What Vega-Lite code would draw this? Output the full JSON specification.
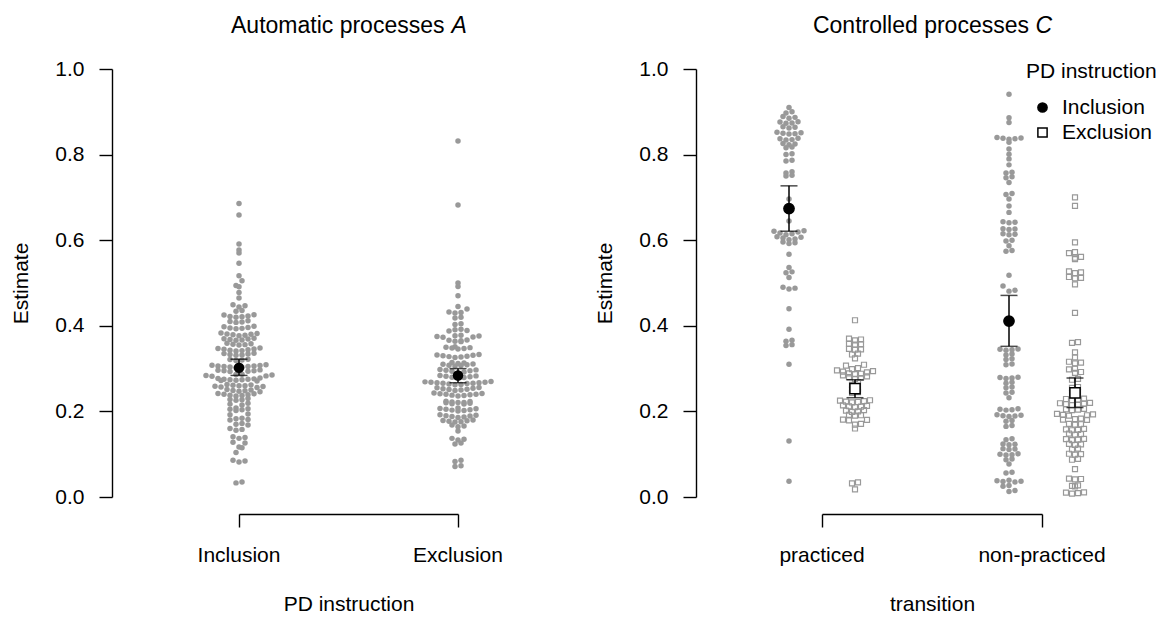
{
  "$schema": "https://vega.github.io/schema/vega-lite/v6.json",
  "background": "white",
  "padding": {"left": 10, "top": 14, "right": 5, "bottom": 5},
  "config": {
    "view": {"stroke": null},
    "font": "Liberation Sans",
    "axis": {
      "grid": false,
      "domainColor": "black",
      "tickColor": "black",
      "labelColor": "black",
      "titleColor": "black",
      "labelFont": "Liberation Sans",
      "titleFont": "Liberation Sans",
      "labelFontSize": 21,
      "titleFontSize": 21,
      "titleFontWeight": "normal",
      "domainWidth": 1.4,
      "tickWidth": 1.4,
      "tickSize": 13,
      "labelFlush": false,
      "labelBound": false
    },
    "legend": {
      "titleFont": "Liberation Sans",
      "labelFont": "Liberation Sans",
      "titleFontSize": 21,
      "labelFontSize": 21,
      "titleFontWeight": "normal",
      "titleColor": "black",
      "labelColor": "black",
      "symbolSize": 85,
      "symbolStrokeColor": "black",
      "symbolStrokeWidth": 1.5,
      "rowPadding": 3,
      "titlePadding": 15,
      "labelOffset": 9,
      "symbolOffset": 6,
      "padding": 0
    }
  },
  "datasets": {
    "automatic": [
      {"instruction": "Inclusion", "estimate": 0.686}, {"instruction": "Inclusion", "estimate": 0.659}, {"instruction": "Inclusion", "estimate": 0.591}, {"instruction": "Inclusion", "estimate": 0.577}, {"instruction": "Inclusion", "estimate": 0.570}, {"instruction": "Inclusion", "estimate": 0.546}, {"instruction": "Inclusion", "estimate": 0.517}, {"instruction": "Inclusion", "estimate": 0.505}, {"instruction": "Inclusion", "estimate": 0.494}, {"instruction": "Inclusion", "estimate": 0.491}, {"instruction": "Inclusion", "estimate": 0.478}, {"instruction": "Inclusion", "estimate": 0.465},
      {"instruction": "Inclusion", "estimate": 0.449}, {"instruction": "Inclusion", "estimate": 0.447}, {"instruction": "Inclusion", "estimate": 0.444}, {"instruction": "Inclusion", "estimate": 0.436}, {"instruction": "Inclusion", "estimate": 0.434},
      {"instruction": "Inclusion", "estimate": 0.426}, {"instruction": "Inclusion", "estimate": 0.425}, {"instruction": "Inclusion", "estimate": 0.423}, {"instruction": "Inclusion", "estimate": 0.422}, {"instruction": "Inclusion", "estimate": 0.421}, {"instruction": "Inclusion", "estimate": 0.420},
      {"instruction": "Inclusion", "estimate": 0.412}, {"instruction": "Inclusion", "estimate": 0.410}, {"instruction": "Inclusion", "estimate": 0.409}, {"instruction": "Inclusion", "estimate": 0.408},
      {"instruction": "Inclusion", "estimate": 0.399}, {"instruction": "Inclusion", "estimate": 0.398}, {"instruction": "Inclusion", "estimate": 0.396}, {"instruction": "Inclusion", "estimate": 0.395}, {"instruction": "Inclusion", "estimate": 0.394}, {"instruction": "Inclusion", "estimate": 0.393},
      {"instruction": "Inclusion", "estimate": 0.383}, {"instruction": "Inclusion", "estimate": 0.382}, {"instruction": "Inclusion", "estimate": 0.381}, {"instruction": "Inclusion", "estimate": 0.380}, {"instruction": "Inclusion", "estimate": 0.379}, {"instruction": "Inclusion", "estimate": 0.378}, {"instruction": "Inclusion", "estimate": 0.377},
      {"instruction": "Inclusion", "estimate": 0.371}, {"instruction": "Inclusion", "estimate": 0.370}, {"instruction": "Inclusion", "estimate": 0.369}, {"instruction": "Inclusion", "estimate": 0.368}, {"instruction": "Inclusion", "estimate": 0.367}, {"instruction": "Inclusion", "estimate": 0.366},
      {"instruction": "Inclusion", "estimate": 0.359}, {"instruction": "Inclusion", "estimate": 0.358}, {"instruction": "Inclusion", "estimate": 0.357}, {"instruction": "Inclusion", "estimate": 0.356}, {"instruction": "Inclusion", "estimate": 0.355},
      {"instruction": "Inclusion", "estimate": 0.348}, {"instruction": "Inclusion", "estimate": 0.347}, {"instruction": "Inclusion", "estimate": 0.346}, {"instruction": "Inclusion", "estimate": 0.345}, {"instruction": "Inclusion", "estimate": 0.344}, {"instruction": "Inclusion", "estimate": 0.343}, {"instruction": "Inclusion", "estimate": 0.342}, {"instruction": "Inclusion", "estimate": 0.341},
      {"instruction": "Inclusion", "estimate": 0.336}, {"instruction": "Inclusion", "estimate": 0.335}, {"instruction": "Inclusion", "estimate": 0.334}, {"instruction": "Inclusion", "estimate": 0.333}, {"instruction": "Inclusion", "estimate": 0.332}, {"instruction": "Inclusion", "estimate": 0.331},
      {"instruction": "Inclusion", "estimate": 0.322}, {"instruction": "Inclusion", "estimate": 0.321}, {"instruction": "Inclusion", "estimate": 0.320}, {"instruction": "Inclusion", "estimate": 0.319},
      {"instruction": "Inclusion", "estimate": 0.309}, {"instruction": "Inclusion", "estimate": 0.308}, {"instruction": "Inclusion", "estimate": 0.307}, {"instruction": "Inclusion", "estimate": 0.306}, {"instruction": "Inclusion", "estimate": 0.306}, {"instruction": "Inclusion", "estimate": 0.305}, {"instruction": "Inclusion", "estimate": 0.305}, {"instruction": "Inclusion", "estimate": 0.304}, {"instruction": "Inclusion", "estimate": 0.303}, {"instruction": "Inclusion", "estimate": 0.302},
      {"instruction": "Inclusion", "estimate": 0.297}, {"instruction": "Inclusion", "estimate": 0.296}, {"instruction": "Inclusion", "estimate": 0.295}, {"instruction": "Inclusion", "estimate": 0.295}, {"instruction": "Inclusion", "estimate": 0.294}, {"instruction": "Inclusion", "estimate": 0.293},
      {"instruction": "Inclusion", "estimate": 0.287}, {"instruction": "Inclusion", "estimate": 0.286}, {"instruction": "Inclusion", "estimate": 0.285}, {"instruction": "Inclusion", "estimate": 0.284}, {"instruction": "Inclusion", "estimate": 0.283}, {"instruction": "Inclusion", "estimate": 0.282},
      {"instruction": "Inclusion", "estimate": 0.278}, {"instruction": "Inclusion", "estimate": 0.277}, {"instruction": "Inclusion", "estimate": 0.276}, {"instruction": "Inclusion", "estimate": 0.275}, {"instruction": "Inclusion", "estimate": 0.275}, {"instruction": "Inclusion", "estimate": 0.274}, {"instruction": "Inclusion", "estimate": 0.274}, {"instruction": "Inclusion", "estimate": 0.273}, {"instruction": "Inclusion", "estimate": 0.272}, {"instruction": "Inclusion", "estimate": 0.271},
      {"instruction": "Inclusion", "estimate": 0.263}, {"instruction": "Inclusion", "estimate": 0.262}, {"instruction": "Inclusion", "estimate": 0.261}, {"instruction": "Inclusion", "estimate": 0.260}, {"instruction": "Inclusion", "estimate": 0.260}, {"instruction": "Inclusion", "estimate": 0.259}, {"instruction": "Inclusion", "estimate": 0.258}, {"instruction": "Inclusion", "estimate": 0.257}, {"instruction": "Inclusion", "estimate": 0.256},
      {"instruction": "Inclusion", "estimate": 0.251}, {"instruction": "Inclusion", "estimate": 0.250}, {"instruction": "Inclusion", "estimate": 0.249}, {"instruction": "Inclusion", "estimate": 0.248}, {"instruction": "Inclusion", "estimate": 0.247}, {"instruction": "Inclusion", "estimate": 0.246},
      {"instruction": "Inclusion", "estimate": 0.242}, {"instruction": "Inclusion", "estimate": 0.241}, {"instruction": "Inclusion", "estimate": 0.240}, {"instruction": "Inclusion", "estimate": 0.239}, {"instruction": "Inclusion", "estimate": 0.238}, {"instruction": "Inclusion", "estimate": 0.237}, {"instruction": "Inclusion", "estimate": 0.236},
      {"instruction": "Inclusion", "estimate": 0.230}, {"instruction": "Inclusion", "estimate": 0.228}, {"instruction": "Inclusion", "estimate": 0.227}, {"instruction": "Inclusion", "estimate": 0.226},
      {"instruction": "Inclusion", "estimate": 0.219}, {"instruction": "Inclusion", "estimate": 0.217}, {"instruction": "Inclusion", "estimate": 0.215},
      {"instruction": "Inclusion", "estimate": 0.208}, {"instruction": "Inclusion", "estimate": 0.206}, {"instruction": "Inclusion", "estimate": 0.205}, {"instruction": "Inclusion", "estimate": 0.204}, {"instruction": "Inclusion", "estimate": 0.202},
      {"instruction": "Inclusion", "estimate": 0.194}, {"instruction": "Inclusion", "estimate": 0.192},
      {"instruction": "Inclusion", "estimate": 0.184}, {"instruction": "Inclusion", "estimate": 0.183}, {"instruction": "Inclusion", "estimate": 0.181}, {"instruction": "Inclusion", "estimate": 0.180},
      {"instruction": "Inclusion", "estimate": 0.172}, {"instruction": "Inclusion", "estimate": 0.170}, {"instruction": "Inclusion", "estimate": 0.168},
      {"instruction": "Inclusion", "estimate": 0.160}, {"instruction": "Inclusion", "estimate": 0.158}, {"instruction": "Inclusion", "estimate": 0.156},
      {"instruction": "Inclusion", "estimate": 0.141}, {"instruction": "Inclusion", "estimate": 0.139}, {"instruction": "Inclusion", "estimate": 0.137},
      {"instruction": "Inclusion", "estimate": 0.128}, {"instruction": "Inclusion", "estimate": 0.126},
      {"instruction": "Inclusion", "estimate": 0.117}, {"instruction": "Inclusion", "estimate": 0.115},
      {"instruction": "Inclusion", "estimate": 0.104},
      {"instruction": "Inclusion", "estimate": 0.086}, {"instruction": "Inclusion", "estimate": 0.084}, {"instruction": "Inclusion", "estimate": 0.082},
      {"instruction": "Inclusion", "estimate": 0.035}, {"instruction": "Inclusion", "estimate": 0.033},

      {"instruction": "Exclusion", "estimate": 0.832}, {"instruction": "Exclusion", "estimate": 0.682}, {"instruction": "Exclusion", "estimate": 0.500}, {"instruction": "Exclusion", "estimate": 0.492}, {"instruction": "Exclusion", "estimate": 0.470}, {"instruction": "Exclusion", "estimate": 0.445}, {"instruction": "Exclusion", "estimate": 0.439},
      {"instruction": "Exclusion", "estimate": 0.432}, {"instruction": "Exclusion", "estimate": 0.431}, {"instruction": "Exclusion", "estimate": 0.430}, {"instruction": "Exclusion", "estimate": 0.420}, {"instruction": "Exclusion", "estimate": 0.418}, {"instruction": "Exclusion", "estimate": 0.405}, {"instruction": "Exclusion", "estimate": 0.403},
      {"instruction": "Exclusion", "estimate": 0.392}, {"instruction": "Exclusion", "estimate": 0.391}, {"instruction": "Exclusion", "estimate": 0.389}, {"instruction": "Exclusion", "estimate": 0.388},
      {"instruction": "Exclusion", "estimate": 0.378}, {"instruction": "Exclusion", "estimate": 0.377}, {"instruction": "Exclusion", "estimate": 0.376}, {"instruction": "Exclusion", "estimate": 0.375}, {"instruction": "Exclusion", "estimate": 0.374}, {"instruction": "Exclusion", "estimate": 0.373},
      {"instruction": "Exclusion", "estimate": 0.367}, {"instruction": "Exclusion", "estimate": 0.366}, {"instruction": "Exclusion", "estimate": 0.365}, {"instruction": "Exclusion", "estimate": 0.364}, {"instruction": "Exclusion", "estimate": 0.363},
      {"instruction": "Exclusion", "estimate": 0.351}, {"instruction": "Exclusion", "estimate": 0.350}, {"instruction": "Exclusion", "estimate": 0.349}, {"instruction": "Exclusion", "estimate": 0.348}, {"instruction": "Exclusion", "estimate": 0.347}, {"instruction": "Exclusion", "estimate": 0.346},
      {"instruction": "Exclusion", "estimate": 0.333}, {"instruction": "Exclusion", "estimate": 0.332}, {"instruction": "Exclusion", "estimate": 0.331}, {"instruction": "Exclusion", "estimate": 0.330}, {"instruction": "Exclusion", "estimate": 0.329}, {"instruction": "Exclusion", "estimate": 0.328}, {"instruction": "Exclusion", "estimate": 0.327}, {"instruction": "Exclusion", "estimate": 0.326},
      {"instruction": "Exclusion", "estimate": 0.314}, {"instruction": "Exclusion", "estimate": 0.313}, {"instruction": "Exclusion", "estimate": 0.312}, {"instruction": "Exclusion", "estimate": 0.311}, {"instruction": "Exclusion", "estimate": 0.310}, {"instruction": "Exclusion", "estimate": 0.309}, {"instruction": "Exclusion", "estimate": 0.308}, {"instruction": "Exclusion", "estimate": 0.307}, {"instruction": "Exclusion", "estimate": 0.306},
      {"instruction": "Exclusion", "estimate": 0.298}, {"instruction": "Exclusion", "estimate": 0.297}, {"instruction": "Exclusion", "estimate": 0.296}, {"instruction": "Exclusion", "estimate": 0.295}, {"instruction": "Exclusion", "estimate": 0.294}, {"instruction": "Exclusion", "estimate": 0.292}, {"instruction": "Exclusion", "estimate": 0.290},
      {"instruction": "Exclusion", "estimate": 0.284}, {"instruction": "Exclusion", "estimate": 0.283}, {"instruction": "Exclusion", "estimate": 0.282}, {"instruction": "Exclusion", "estimate": 0.281}, {"instruction": "Exclusion", "estimate": 0.280}, {"instruction": "Exclusion", "estimate": 0.279}, {"instruction": "Exclusion", "estimate": 0.278},
      {"instruction": "Exclusion", "estimate": 0.270}, {"instruction": "Exclusion", "estimate": 0.269}, {"instruction": "Exclusion", "estimate": 0.268}, {"instruction": "Exclusion", "estimate": 0.268}, {"instruction": "Exclusion", "estimate": 0.267}, {"instruction": "Exclusion", "estimate": 0.267}, {"instruction": "Exclusion", "estimate": 0.266}, {"instruction": "Exclusion", "estimate": 0.266}, {"instruction": "Exclusion", "estimate": 0.265}, {"instruction": "Exclusion", "estimate": 0.264}, {"instruction": "Exclusion", "estimate": 0.263}, {"instruction": "Exclusion", "estimate": 0.262},
      {"instruction": "Exclusion", "estimate": 0.256}, {"instruction": "Exclusion", "estimate": 0.255}, {"instruction": "Exclusion", "estimate": 0.254}, {"instruction": "Exclusion", "estimate": 0.253}, {"instruction": "Exclusion", "estimate": 0.252}, {"instruction": "Exclusion", "estimate": 0.251}, {"instruction": "Exclusion", "estimate": 0.250}, {"instruction": "Exclusion", "estimate": 0.249},
      {"instruction": "Exclusion", "estimate": 0.243}, {"instruction": "Exclusion", "estimate": 0.242}, {"instruction": "Exclusion", "estimate": 0.241}, {"instruction": "Exclusion", "estimate": 0.240}, {"instruction": "Exclusion", "estimate": 0.240}, {"instruction": "Exclusion", "estimate": 0.239}, {"instruction": "Exclusion", "estimate": 0.238}, {"instruction": "Exclusion", "estimate": 0.237}, {"instruction": "Exclusion", "estimate": 0.236},
      {"instruction": "Exclusion", "estimate": 0.224}, {"instruction": "Exclusion", "estimate": 0.223}, {"instruction": "Exclusion", "estimate": 0.222}, {"instruction": "Exclusion", "estimate": 0.221}, {"instruction": "Exclusion", "estimate": 0.221}, {"instruction": "Exclusion", "estimate": 0.220}, {"instruction": "Exclusion", "estimate": 0.219}, {"instruction": "Exclusion", "estimate": 0.218}, {"instruction": "Exclusion", "estimate": 0.217},
      {"instruction": "Exclusion", "estimate": 0.208}, {"instruction": "Exclusion", "estimate": 0.207}, {"instruction": "Exclusion", "estimate": 0.206}, {"instruction": "Exclusion", "estimate": 0.205}, {"instruction": "Exclusion", "estimate": 0.204}, {"instruction": "Exclusion", "estimate": 0.203}, {"instruction": "Exclusion", "estimate": 0.202}, {"instruction": "Exclusion", "estimate": 0.201},
      {"instruction": "Exclusion", "estimate": 0.192}, {"instruction": "Exclusion", "estimate": 0.191}, {"instruction": "Exclusion", "estimate": 0.190}, {"instruction": "Exclusion", "estimate": 0.189}, {"instruction": "Exclusion", "estimate": 0.188}, {"instruction": "Exclusion", "estimate": 0.187}, {"instruction": "Exclusion", "estimate": 0.186},
      {"instruction": "Exclusion", "estimate": 0.180}, {"instruction": "Exclusion", "estimate": 0.179}, {"instruction": "Exclusion", "estimate": 0.178}, {"instruction": "Exclusion", "estimate": 0.177}, {"instruction": "Exclusion", "estimate": 0.176}, {"instruction": "Exclusion", "estimate": 0.175},
      {"instruction": "Exclusion", "estimate": 0.168}, {"instruction": "Exclusion", "estimate": 0.166}, {"instruction": "Exclusion", "estimate": 0.164},
      {"instruction": "Exclusion", "estimate": 0.154},
      {"instruction": "Exclusion", "estimate": 0.137}, {"instruction": "Exclusion", "estimate": 0.135}, {"instruction": "Exclusion", "estimate": 0.133},
      {"instruction": "Exclusion", "estimate": 0.126}, {"instruction": "Exclusion", "estimate": 0.124},
      {"instruction": "Exclusion", "estimate": 0.086}, {"instruction": "Exclusion", "estimate": 0.083},
      {"instruction": "Exclusion", "estimate": 0.073}, {"instruction": "Exclusion", "estimate": 0.071}
    ],
    "automaticMeans": [
      {"instruction": "Inclusion", "mean": 0.302, "lower": 0.284, "upper": 0.322},
      {"instruction": "Exclusion", "mean": 0.284, "lower": 0.267, "upper": 0.300}
    ],
    "controlled": [
      {"transition": "practiced", "instruction": "Inclusion", "estimate": 0.910}, {"transition": "practiced", "instruction": "Inclusion", "estimate": 0.900}, {"transition": "practiced", "instruction": "Inclusion", "estimate": 0.897}, {"transition": "practiced", "instruction": "Inclusion", "estimate": 0.889}, {"transition": "practiced", "instruction": "Inclusion", "estimate": 0.887}, {"transition": "practiced", "instruction": "Inclusion", "estimate": 0.885}, {"transition": "practiced", "instruction": "Inclusion", "estimate": 0.877}, {"transition": "practiced", "instruction": "Inclusion", "estimate": 0.876}, {"transition": "practiced", "instruction": "Inclusion", "estimate": 0.874}, {"transition": "practiced", "instruction": "Inclusion", "estimate": 0.873}, {"transition": "practiced", "instruction": "Inclusion", "estimate": 0.865}, {"transition": "practiced", "instruction": "Inclusion", "estimate": 0.864}, {"transition": "practiced", "instruction": "Inclusion", "estimate": 0.862},
      {"transition": "practiced", "instruction": "Inclusion", "estimate": 0.852}, {"transition": "practiced", "instruction": "Inclusion", "estimate": 0.851}, {"transition": "practiced", "instruction": "Inclusion", "estimate": 0.850}, {"transition": "practiced", "instruction": "Inclusion", "estimate": 0.849}, {"transition": "practiced", "instruction": "Inclusion", "estimate": 0.848}, {"transition": "practiced", "instruction": "Inclusion", "estimate": 0.838}, {"transition": "practiced", "instruction": "Inclusion", "estimate": 0.837}, {"transition": "practiced", "instruction": "Inclusion", "estimate": 0.835}, {"transition": "practiced", "instruction": "Inclusion", "estimate": 0.834}, {"transition": "practiced", "instruction": "Inclusion", "estimate": 0.826}, {"transition": "practiced", "instruction": "Inclusion", "estimate": 0.825}, {"transition": "practiced", "instruction": "Inclusion", "estimate": 0.823}, {"transition": "practiced", "instruction": "Inclusion", "estimate": 0.818}, {"transition": "practiced", "instruction": "Inclusion", "estimate": 0.816},
      {"transition": "practiced", "instruction": "Inclusion", "estimate": 0.802}, {"transition": "practiced", "instruction": "Inclusion", "estimate": 0.800}, {"transition": "practiced", "instruction": "Inclusion", "estimate": 0.787}, {"transition": "practiced", "instruction": "Inclusion", "estimate": 0.785}, {"transition": "practiced", "instruction": "Inclusion", "estimate": 0.760}, {"transition": "practiced", "instruction": "Inclusion", "estimate": 0.757}, {"transition": "practiced", "instruction": "Inclusion", "estimate": 0.752}, {"transition": "practiced", "instruction": "Inclusion", "estimate": 0.750},
      {"transition": "practiced", "instruction": "Inclusion", "estimate": 0.696}, {"transition": "practiced", "instruction": "Inclusion", "estimate": 0.645},
      {"transition": "practiced", "instruction": "Inclusion", "estimate": 0.622}, {"transition": "practiced", "instruction": "Inclusion", "estimate": 0.621}, {"transition": "practiced", "instruction": "Inclusion", "estimate": 0.619}, {"transition": "practiced", "instruction": "Inclusion", "estimate": 0.617}, {"transition": "practiced", "instruction": "Inclusion", "estimate": 0.615}, {"transition": "practiced", "instruction": "Inclusion", "estimate": 0.613}, {"transition": "practiced", "instruction": "Inclusion", "estimate": 0.608}, {"transition": "practiced", "instruction": "Inclusion", "estimate": 0.607}, {"transition": "practiced", "instruction": "Inclusion", "estimate": 0.605}, {"transition": "practiced", "instruction": "Inclusion", "estimate": 0.603}, {"transition": "practiced", "instruction": "Inclusion", "estimate": 0.601}, {"transition": "practiced", "instruction": "Inclusion", "estimate": 0.596}, {"transition": "practiced", "instruction": "Inclusion", "estimate": 0.594}, {"transition": "practiced", "instruction": "Inclusion", "estimate": 0.592},
      {"transition": "practiced", "instruction": "Inclusion", "estimate": 0.567}, {"transition": "practiced", "instruction": "Inclusion", "estimate": 0.536}, {"transition": "practiced", "instruction": "Inclusion", "estimate": 0.526}, {"transition": "practiced", "instruction": "Inclusion", "estimate": 0.524}, {"transition": "practiced", "instruction": "Inclusion", "estimate": 0.513}, {"transition": "practiced", "instruction": "Inclusion", "estimate": 0.490}, {"transition": "practiced", "instruction": "Inclusion", "estimate": 0.488}, {"transition": "practiced", "instruction": "Inclusion", "estimate": 0.486}, {"transition": "practiced", "instruction": "Inclusion", "estimate": 0.440}, {"transition": "practiced", "instruction": "Inclusion", "estimate": 0.392}, {"transition": "practiced", "instruction": "Inclusion", "estimate": 0.366}, {"transition": "practiced", "instruction": "Inclusion", "estimate": 0.364}, {"transition": "practiced", "instruction": "Inclusion", "estimate": 0.356}, {"transition": "practiced", "instruction": "Inclusion", "estimate": 0.354}, {"transition": "practiced", "instruction": "Inclusion", "estimate": 0.310}, {"transition": "practiced", "instruction": "Inclusion", "estimate": 0.131}, {"transition": "practiced", "instruction": "Inclusion", "estimate": 0.037},

      {"transition": "practiced", "instruction": "Exclusion", "estimate": 0.413}, {"transition": "practiced", "instruction": "Exclusion", "estimate": 0.370}, {"transition": "practiced", "instruction": "Exclusion", "estimate": 0.368}, {"transition": "practiced", "instruction": "Exclusion", "estimate": 0.366}, {"transition": "practiced", "instruction": "Exclusion", "estimate": 0.358}, {"transition": "practiced", "instruction": "Exclusion", "estimate": 0.357}, {"transition": "practiced", "instruction": "Exclusion", "estimate": 0.356}, {"transition": "practiced", "instruction": "Exclusion", "estimate": 0.346}, {"transition": "practiced", "instruction": "Exclusion", "estimate": 0.345}, {"transition": "practiced", "instruction": "Exclusion", "estimate": 0.344}, {"transition": "practiced", "instruction": "Exclusion", "estimate": 0.335}, {"transition": "practiced", "instruction": "Exclusion", "estimate": 0.333}, {"transition": "practiced", "instruction": "Exclusion", "estimate": 0.324}, {"transition": "practiced", "instruction": "Exclusion", "estimate": 0.309}, {"transition": "practiced", "instruction": "Exclusion", "estimate": 0.307}, {"transition": "practiced", "instruction": "Exclusion", "estimate": 0.301}, {"transition": "practiced", "instruction": "Exclusion", "estimate": 0.299},
      {"transition": "practiced", "instruction": "Exclusion", "estimate": 0.296}, {"transition": "practiced", "instruction": "Exclusion", "estimate": 0.294}, {"transition": "practiced", "instruction": "Exclusion", "estimate": 0.293}, {"transition": "practiced", "instruction": "Exclusion", "estimate": 0.291}, {"transition": "practiced", "instruction": "Exclusion", "estimate": 0.289}, {"transition": "practiced", "instruction": "Exclusion", "estimate": 0.288}, {"transition": "practiced", "instruction": "Exclusion", "estimate": 0.287}, {"transition": "practiced", "instruction": "Exclusion", "estimate": 0.284}, {"transition": "practiced", "instruction": "Exclusion", "estimate": 0.282}, {"transition": "practiced", "instruction": "Exclusion", "estimate": 0.280}, {"transition": "practiced", "instruction": "Exclusion", "estimate": 0.278}, {"transition": "practiced", "instruction": "Exclusion", "estimate": 0.276},
      {"transition": "practiced", "instruction": "Exclusion", "estimate": 0.268}, {"transition": "practiced", "instruction": "Exclusion", "estimate": 0.262}, {"transition": "practiced", "instruction": "Exclusion", "estimate": 0.253}, {"transition": "practiced", "instruction": "Exclusion", "estimate": 0.251}, {"transition": "practiced", "instruction": "Exclusion", "estimate": 0.245}, {"transition": "practiced", "instruction": "Exclusion", "estimate": 0.243},
      {"transition": "practiced", "instruction": "Exclusion", "estimate": 0.226}, {"transition": "practiced", "instruction": "Exclusion", "estimate": 0.225}, {"transition": "practiced", "instruction": "Exclusion", "estimate": 0.224}, {"transition": "practiced", "instruction": "Exclusion", "estimate": 0.223}, {"transition": "practiced", "instruction": "Exclusion", "estimate": 0.222}, {"transition": "practiced", "instruction": "Exclusion", "estimate": 0.221}, {"transition": "practiced", "instruction": "Exclusion", "estimate": 0.214}, {"transition": "practiced", "instruction": "Exclusion", "estimate": 0.213}, {"transition": "practiced", "instruction": "Exclusion", "estimate": 0.212}, {"transition": "practiced", "instruction": "Exclusion", "estimate": 0.211}, {"transition": "practiced", "instruction": "Exclusion", "estimate": 0.210},
      {"transition": "practiced", "instruction": "Exclusion", "estimate": 0.203}, {"transition": "practiced", "instruction": "Exclusion", "estimate": 0.202}, {"transition": "practiced", "instruction": "Exclusion", "estimate": 0.200}, {"transition": "practiced", "instruction": "Exclusion", "estimate": 0.199}, {"transition": "practiced", "instruction": "Exclusion", "estimate": 0.192}, {"transition": "practiced", "instruction": "Exclusion", "estimate": 0.191}, {"transition": "practiced", "instruction": "Exclusion", "estimate": 0.190}, {"transition": "practiced", "instruction": "Exclusion", "estimate": 0.181}, {"transition": "practiced", "instruction": "Exclusion", "estimate": 0.180}, {"transition": "practiced", "instruction": "Exclusion", "estimate": 0.179}, {"transition": "practiced", "instruction": "Exclusion", "estimate": 0.171}, {"transition": "practiced", "instruction": "Exclusion", "estimate": 0.169}, {"transition": "practiced", "instruction": "Exclusion", "estimate": 0.160},
      {"transition": "practiced", "instruction": "Exclusion", "estimate": 0.034}, {"transition": "practiced", "instruction": "Exclusion", "estimate": 0.032}, {"transition": "practiced", "instruction": "Exclusion", "estimate": 0.018},

      {"transition": "non-practiced", "instruction": "Inclusion", "estimate": 0.941}, {"transition": "non-practiced", "instruction": "Inclusion", "estimate": 0.886}, {"transition": "non-practiced", "instruction": "Inclusion", "estimate": 0.875}, {"transition": "non-practiced", "instruction": "Inclusion", "estimate": 0.840}, {"transition": "non-practiced", "instruction": "Inclusion", "estimate": 0.839}, {"transition": "non-practiced", "instruction": "Inclusion", "estimate": 0.838}, {"transition": "non-practiced", "instruction": "Inclusion", "estimate": 0.837}, {"transition": "non-practiced", "instruction": "Inclusion", "estimate": 0.836}, {"transition": "non-practiced", "instruction": "Inclusion", "estimate": 0.829}, {"transition": "non-practiced", "instruction": "Inclusion", "estimate": 0.813}, {"transition": "non-practiced", "instruction": "Inclusion", "estimate": 0.801}, {"transition": "non-practiced", "instruction": "Inclusion", "estimate": 0.790}, {"transition": "non-practiced", "instruction": "Inclusion", "estimate": 0.776}, {"transition": "non-practiced", "instruction": "Inclusion", "estimate": 0.759}, {"transition": "non-practiced", "instruction": "Inclusion", "estimate": 0.757}, {"transition": "non-practiced", "instruction": "Inclusion", "estimate": 0.748}, {"transition": "non-practiced", "instruction": "Inclusion", "estimate": 0.746}, {"transition": "non-practiced", "instruction": "Inclusion", "estimate": 0.735}, {"transition": "non-practiced", "instruction": "Inclusion", "estimate": 0.709}, {"transition": "non-practiced", "instruction": "Inclusion", "estimate": 0.707}, {"transition": "non-practiced", "instruction": "Inclusion", "estimate": 0.696}, {"transition": "non-practiced", "instruction": "Inclusion", "estimate": 0.680}, {"transition": "non-practiced", "instruction": "Inclusion", "estimate": 0.665}, {"transition": "non-practiced", "instruction": "Inclusion", "estimate": 0.643}, {"transition": "non-practiced", "instruction": "Inclusion", "estimate": 0.642}, {"transition": "non-practiced", "instruction": "Inclusion", "estimate": 0.641}, {"transition": "non-practiced", "instruction": "Inclusion", "estimate": 0.627}, {"transition": "non-practiced", "instruction": "Inclusion", "estimate": 0.626}, {"transition": "non-practiced", "instruction": "Inclusion", "estimate": 0.625}, {"transition": "non-practiced", "instruction": "Inclusion", "estimate": 0.615}, {"transition": "non-practiced", "instruction": "Inclusion", "estimate": 0.614}, {"transition": "non-practiced", "instruction": "Inclusion", "estimate": 0.613}, {"transition": "non-practiced", "instruction": "Inclusion", "estimate": 0.600}, {"transition": "non-practiced", "instruction": "Inclusion", "estimate": 0.598}, {"transition": "non-practiced", "instruction": "Inclusion", "estimate": 0.587}, {"transition": "non-practiced", "instruction": "Inclusion", "estimate": 0.576}, {"transition": "non-practiced", "instruction": "Inclusion", "estimate": 0.574}, {"transition": "non-practiced", "instruction": "Inclusion", "estimate": 0.518}, {"transition": "non-practiced", "instruction": "Inclusion", "estimate": 0.493}, {"transition": "non-practiced", "instruction": "Inclusion", "estimate": 0.483}, {"transition": "non-practiced", "instruction": "Inclusion", "estimate": 0.481},
      {"transition": "non-practiced", "instruction": "Inclusion", "estimate": 0.346}, {"transition": "non-practiced", "instruction": "Inclusion", "estimate": 0.345}, {"transition": "non-practiced", "instruction": "Inclusion", "estimate": 0.344}, {"transition": "non-practiced", "instruction": "Inclusion", "estimate": 0.343}, {"transition": "non-practiced", "instruction": "Inclusion", "estimate": 0.334}, {"transition": "non-practiced", "instruction": "Inclusion", "estimate": 0.332}, {"transition": "non-practiced", "instruction": "Inclusion", "estimate": 0.323}, {"transition": "non-practiced", "instruction": "Inclusion", "estimate": 0.321}, {"transition": "non-practiced", "instruction": "Inclusion", "estimate": 0.311}, {"transition": "non-practiced", "instruction": "Inclusion", "estimate": 0.309},
      {"transition": "non-practiced", "instruction": "Inclusion", "estimate": 0.280}, {"transition": "non-practiced", "instruction": "Inclusion", "estimate": 0.279}, {"transition": "non-practiced", "instruction": "Inclusion", "estimate": 0.278}, {"transition": "non-practiced", "instruction": "Inclusion", "estimate": 0.277}, {"transition": "non-practiced", "instruction": "Inclusion", "estimate": 0.268}, {"transition": "non-practiced", "instruction": "Inclusion", "estimate": 0.266}, {"transition": "non-practiced", "instruction": "Inclusion", "estimate": 0.257}, {"transition": "non-practiced", "instruction": "Inclusion", "estimate": 0.255}, {"transition": "non-practiced", "instruction": "Inclusion", "estimate": 0.245}, {"transition": "non-practiced", "instruction": "Inclusion", "estimate": 0.243}, {"transition": "non-practiced", "instruction": "Inclusion", "estimate": 0.232},
      {"transition": "non-practiced", "instruction": "Inclusion", "estimate": 0.206}, {"transition": "non-practiced", "instruction": "Inclusion", "estimate": 0.205}, {"transition": "non-practiced", "instruction": "Inclusion", "estimate": 0.204}, {"transition": "non-practiced", "instruction": "Inclusion", "estimate": 0.203}, {"transition": "non-practiced", "instruction": "Inclusion", "estimate": 0.192}, {"transition": "non-practiced", "instruction": "Inclusion", "estimate": 0.191}, {"transition": "non-practiced", "instruction": "Inclusion", "estimate": 0.190}, {"transition": "non-practiced", "instruction": "Inclusion", "estimate": 0.189}, {"transition": "non-practiced", "instruction": "Inclusion", "estimate": 0.188}, {"transition": "non-practiced", "instruction": "Inclusion", "estimate": 0.179}, {"transition": "non-practiced", "instruction": "Inclusion", "estimate": 0.177}, {"transition": "non-practiced", "instruction": "Inclusion", "estimate": 0.167}, {"transition": "non-practiced", "instruction": "Inclusion", "estimate": 0.165},
      {"transition": "non-practiced", "instruction": "Inclusion", "estimate": 0.136}, {"transition": "non-practiced", "instruction": "Inclusion", "estimate": 0.134}, {"transition": "non-practiced", "instruction": "Inclusion", "estimate": 0.124}, {"transition": "non-practiced", "instruction": "Inclusion", "estimate": 0.123}, {"transition": "non-practiced", "instruction": "Inclusion", "estimate": 0.122}, {"transition": "non-practiced", "instruction": "Inclusion", "estimate": 0.113}, {"transition": "non-practiced", "instruction": "Inclusion", "estimate": 0.112}, {"transition": "non-practiced", "instruction": "Inclusion", "estimate": 0.111}, {"transition": "non-practiced", "instruction": "Inclusion", "estimate": 0.101}, {"transition": "non-practiced", "instruction": "Inclusion", "estimate": 0.100}, {"transition": "non-practiced", "instruction": "Inclusion", "estimate": 0.099}, {"transition": "non-practiced", "instruction": "Inclusion", "estimate": 0.098}, {"transition": "non-practiced", "instruction": "Inclusion", "estimate": 0.089}, {"transition": "non-practiced", "instruction": "Inclusion", "estimate": 0.087}, {"transition": "non-practiced", "instruction": "Inclusion", "estimate": 0.077}, {"transition": "non-practiced", "instruction": "Inclusion", "estimate": 0.058}, {"transition": "non-practiced", "instruction": "Inclusion", "estimate": 0.056},
      {"transition": "non-practiced", "instruction": "Inclusion", "estimate": 0.039}, {"transition": "non-practiced", "instruction": "Inclusion", "estimate": 0.038}, {"transition": "non-practiced", "instruction": "Inclusion", "estimate": 0.037}, {"transition": "non-practiced", "instruction": "Inclusion", "estimate": 0.036}, {"transition": "non-practiced", "instruction": "Inclusion", "estimate": 0.035}, {"transition": "non-practiced", "instruction": "Inclusion", "estimate": 0.027}, {"transition": "non-practiced", "instruction": "Inclusion", "estimate": 0.025}, {"transition": "non-practiced", "instruction": "Inclusion", "estimate": 0.015}, {"transition": "non-practiced", "instruction": "Inclusion", "estimate": 0.013},

      {"transition": "non-practiced", "instruction": "Exclusion", "estimate": 0.700}, {"transition": "non-practiced", "instruction": "Exclusion", "estimate": 0.680}, {"transition": "non-practiced", "instruction": "Exclusion", "estimate": 0.595}, {"transition": "non-practiced", "instruction": "Exclusion", "estimate": 0.572}, {"transition": "non-practiced", "instruction": "Exclusion", "estimate": 0.570}, {"transition": "non-practiced", "instruction": "Exclusion", "estimate": 0.561}, {"transition": "non-practiced", "instruction": "Exclusion", "estimate": 0.559}, {"transition": "non-practiced", "instruction": "Exclusion", "estimate": 0.556}, {"transition": "non-practiced", "instruction": "Exclusion", "estimate": 0.527}, {"transition": "non-practiced", "instruction": "Exclusion", "estimate": 0.525}, {"transition": "non-practiced", "instruction": "Exclusion", "estimate": 0.523}, {"transition": "non-practiced", "instruction": "Exclusion", "estimate": 0.514}, {"transition": "non-practiced", "instruction": "Exclusion", "estimate": 0.512}, {"transition": "non-practiced", "instruction": "Exclusion", "estimate": 0.511}, {"transition": "non-practiced", "instruction": "Exclusion", "estimate": 0.497}, {"transition": "non-practiced", "instruction": "Exclusion", "estimate": 0.430},
      {"transition": "non-practiced", "instruction": "Exclusion", "estimate": 0.362}, {"transition": "non-practiced", "instruction": "Exclusion", "estimate": 0.360}, {"transition": "non-practiced", "instruction": "Exclusion", "estimate": 0.338}, {"transition": "non-practiced", "instruction": "Exclusion", "estimate": 0.326}, {"transition": "non-practiced", "instruction": "Exclusion", "estimate": 0.316}, {"transition": "non-practiced", "instruction": "Exclusion", "estimate": 0.314}, {"transition": "non-practiced", "instruction": "Exclusion", "estimate": 0.312}, {"transition": "non-practiced", "instruction": "Exclusion", "estimate": 0.300}, {"transition": "non-practiced", "instruction": "Exclusion", "estimate": 0.298}, {"transition": "non-practiced", "instruction": "Exclusion", "estimate": 0.292}, {"transition": "non-practiced", "instruction": "Exclusion", "estimate": 0.290}, {"transition": "non-practiced", "instruction": "Exclusion", "estimate": 0.276}, {"transition": "non-practiced", "instruction": "Exclusion", "estimate": 0.274}, {"transition": "non-practiced", "instruction": "Exclusion", "estimate": 0.257}, {"transition": "non-practiced", "instruction": "Exclusion", "estimate": 0.255}, {"transition": "non-practiced", "instruction": "Exclusion", "estimate": 0.245}, {"transition": "non-practiced", "instruction": "Exclusion", "estimate": 0.243},
      {"transition": "non-practiced", "instruction": "Exclusion", "estimate": 0.230}, {"transition": "non-practiced", "instruction": "Exclusion", "estimate": 0.229}, {"transition": "non-practiced", "instruction": "Exclusion", "estimate": 0.227}, {"transition": "non-practiced", "instruction": "Exclusion", "estimate": 0.226}, {"transition": "non-practiced", "instruction": "Exclusion", "estimate": 0.220}, {"transition": "non-practiced", "instruction": "Exclusion", "estimate": 0.219}, {"transition": "non-practiced", "instruction": "Exclusion", "estimate": 0.218}, {"transition": "non-practiced", "instruction": "Exclusion", "estimate": 0.217}, {"transition": "non-practiced", "instruction": "Exclusion", "estimate": 0.216}, {"transition": "non-practiced", "instruction": "Exclusion", "estimate": 0.215}, {"transition": "non-practiced", "instruction": "Exclusion", "estimate": 0.206}, {"transition": "non-practiced", "instruction": "Exclusion", "estimate": 0.205}, {"transition": "non-practiced", "instruction": "Exclusion", "estimate": 0.204}, {"transition": "non-practiced", "instruction": "Exclusion", "estimate": 0.203}, {"transition": "non-practiced", "instruction": "Exclusion", "estimate": 0.194}, {"transition": "non-practiced", "instruction": "Exclusion", "estimate": 0.193}, {"transition": "non-practiced", "instruction": "Exclusion", "estimate": 0.192}, {"transition": "non-practiced", "instruction": "Exclusion", "estimate": 0.191}, {"transition": "non-practiced", "instruction": "Exclusion", "estimate": 0.190}, {"transition": "non-practiced", "instruction": "Exclusion", "estimate": 0.183}, {"transition": "non-practiced", "instruction": "Exclusion", "estimate": 0.182}, {"transition": "non-practiced", "instruction": "Exclusion", "estimate": 0.181}, {"transition": "non-practiced", "instruction": "Exclusion", "estimate": 0.180},
      {"transition": "non-practiced", "instruction": "Exclusion", "estimate": 0.171}, {"transition": "non-practiced", "instruction": "Exclusion", "estimate": 0.170}, {"transition": "non-practiced", "instruction": "Exclusion", "estimate": 0.169}, {"transition": "non-practiced", "instruction": "Exclusion", "estimate": 0.159}, {"transition": "non-practiced", "instruction": "Exclusion", "estimate": 0.158}, {"transition": "non-practiced", "instruction": "Exclusion", "estimate": 0.157}, {"transition": "non-practiced", "instruction": "Exclusion", "estimate": 0.156}, {"transition": "non-practiced", "instruction": "Exclusion", "estimate": 0.148}, {"transition": "non-practiced", "instruction": "Exclusion", "estimate": 0.147}, {"transition": "non-practiced", "instruction": "Exclusion", "estimate": 0.146}, {"transition": "non-practiced", "instruction": "Exclusion", "estimate": 0.136}, {"transition": "non-practiced", "instruction": "Exclusion", "estimate": 0.135}, {"transition": "non-practiced", "instruction": "Exclusion", "estimate": 0.134}, {"transition": "non-practiced", "instruction": "Exclusion", "estimate": 0.133}, {"transition": "non-practiced", "instruction": "Exclusion", "estimate": 0.124}, {"transition": "non-practiced", "instruction": "Exclusion", "estimate": 0.123}, {"transition": "non-practiced", "instruction": "Exclusion", "estimate": 0.122}, {"transition": "non-practiced", "instruction": "Exclusion", "estimate": 0.113}, {"transition": "non-practiced", "instruction": "Exclusion", "estimate": 0.111}, {"transition": "non-practiced", "instruction": "Exclusion", "estimate": 0.101}, {"transition": "non-practiced", "instruction": "Exclusion", "estimate": 0.100}, {"transition": "non-practiced", "instruction": "Exclusion", "estimate": 0.099}, {"transition": "non-practiced", "instruction": "Exclusion", "estimate": 0.089}, {"transition": "non-practiced", "instruction": "Exclusion", "estimate": 0.087}, {"transition": "non-practiced", "instruction": "Exclusion", "estimate": 0.065}, {"transition": "non-practiced", "instruction": "Exclusion", "estimate": 0.043}, {"transition": "non-practiced", "instruction": "Exclusion", "estimate": 0.042}, {"transition": "non-practiced", "instruction": "Exclusion", "estimate": 0.041}, {"transition": "non-practiced", "instruction": "Exclusion", "estimate": 0.027}, {"transition": "non-practiced", "instruction": "Exclusion", "estimate": 0.026}, {"transition": "non-practiced", "instruction": "Exclusion", "estimate": 0.025}, {"transition": "non-practiced", "instruction": "Exclusion", "estimate": 0.011}, {"transition": "non-practiced", "instruction": "Exclusion", "estimate": 0.010}, {"transition": "non-practiced", "instruction": "Exclusion", "estimate": 0.009}, {"transition": "non-practiced", "instruction": "Exclusion", "estimate": 0.008}
    ],
    "controlledMeans": [
      {"transition": "practiced", "instruction": "Inclusion", "mean": 0.674, "lower": 0.621, "upper": 0.727},
      {"transition": "practiced", "instruction": "Exclusion", "mean": 0.253, "lower": 0.232, "upper": 0.274},
      {"transition": "non-practiced", "instruction": "Inclusion", "mean": 0.411, "lower": 0.352, "upper": 0.471},
      {"transition": "non-practiced", "instruction": "Exclusion", "mean": 0.243, "lower": 0.209, "upper": 0.278}
    ]
  },
  "bounds": "flush",
  "spacing": 364,
  "resolve": {"scale": {"x": "independent", "y": "independent", "xOffset": "independent", "shape": "independent", "fill": "independent", "stroke": "independent"}},
  "hconcat": [
    {
      "width": 219,
      "height": 428,
      "encoding": {
        "x": {
          "field": "instruction", "type": "nominal", "sort": ["Inclusion", "Exclusion"],
          "scale": {"type": "band", "paddingInner": 1, "paddingOuter": 0},
          "axis": {"title": "PD instruction", "labelAngle": 0, "offset": 17, "labelPadding": 17, "titlePadding": 28}
        }
      },
      "layer": [
        {
          "data": {"name": "automatic"},
          "transform": [
            {"calculate": "floor(datum.estimate / 0.013)", "as": "row"},
            {"window": [{"op": "row_number", "as": "k"}], "groupby": ["instruction", "row"], "sort": [{"field": "estimate", "order": "ascending"}]},
            {"joinaggregate": [{"op": "count", "as": "n"}], "groupby": ["instruction", "row"]},
            {"calculate": "(datum.k % 2 == 0 ? 1 : -1) * floor(datum.k / 2) - (datum.n % 2 == 0 ? 0.5 : 0)", "as": "slot"}
          ],
          "mark": {"type": "circle", "size": 30, "color": "#999999", "opacity": 1},
          "encoding": {
            "xOffset": {"field": "slot", "type": "quantitative", "scale": {"domain": [-20, 20], "range": [-120, 120]}},
            "y": {
              "field": "estimate", "type": "quantitative", "title": "Estimate",
              "scale": {"domain": [0, 1], "nice": false, "zero": false},
              "axis": {"values": [0, 0.2, 0.4, 0.6, 0.8, 1], "format": ".1f", "offset": 127, "labelPadding": 15, "titlePadding": 23}
            }
          }
        },
        {
          "data": {"name": "automaticMeans"},
          "mark": {"type": "rule", "color": "black", "strokeWidth": 1.5},
          "encoding": {
            "y": {"field": "lower", "type": "quantitative", "title": "Estimate"},
            "y2": {"field": "upper"}
          }
        },
        {
          "data": {"name": "automaticMeans"},
          "transform": [{"fold": ["lower", "upper"], "as": ["limit", "bound"]}],
          "mark": {"type": "tick", "color": "black", "size": 17, "thickness": 1.5, "orient": "horizontal"},
          "encoding": {
            "y": {"field": "bound", "type": "quantitative", "title": "Estimate"}
          }
        },
        {
          "data": {"name": "automaticMeans"},
          "mark": {"type": "point", "shape": "circle", "filled": true, "color": "black", "size": 110, "opacity": 1},
          "encoding": {
            "y": {"field": "mean", "type": "quantitative", "title": "Estimate"}
          }
        },
        {
          "data": {"values": [{"heading": "Automatic processes"}]},
          "mark": {"type": "text", "align": "right", "baseline": "alphabetic", "dx": -13.5, "dy": -36.5, "fontSize": 23, "font": "Liberation Sans", "color": "black"},
          "encoding": {
            "x": {"datum": "Exclusion", "type": "nominal"},
            "y": {"datum": 1, "type": "quantitative"},
            "text": {"field": "heading"}
          }
        },
        {
          "data": {"values": [{"heading": "A"}]},
          "mark": {"type": "text", "align": "left", "baseline": "alphabetic", "dx": -6.5, "dy": -36.5, "fontSize": 23, "fontStyle": "italic", "font": "Liberation Sans", "color": "black"},
          "encoding": {
            "x": {"datum": "Exclusion", "type": "nominal"},
            "y": {"datum": 1, "type": "quantitative"},
            "text": {"field": "heading"}
          }
        }
      ]
    },
    {
      "width": 220,
      "height": 428,
      "encoding": {
        "x": {
          "field": "transition", "type": "nominal", "sort": ["practiced", "non-practiced"],
          "scale": {"type": "band", "paddingInner": 1, "paddingOuter": 0},
          "axis": {"title": "transition", "labelAngle": 0, "offset": 17, "labelPadding": 17, "titlePadding": 28}
        }
      },
      "layer": [
        {
          "data": {"name": "controlled"},
          "transform": [
            {"filter": "datum.instruction == 'Inclusion'"},
            {"calculate": "floor(datum.estimate / 0.013)", "as": "row"},
            {"window": [{"op": "row_number", "as": "k"}], "groupby": ["transition", "instruction", "row"], "sort": [{"field": "estimate", "order": "ascending"}]},
            {"joinaggregate": [{"op": "count", "as": "n"}], "groupby": ["transition", "instruction", "row"]},
            {"calculate": "-5.5 + (datum.k % 2 == 0 ? 1 : -1) * floor(datum.k / 2) - (datum.n % 2 == 0 ? 0.5 : 0)", "as": "pos"}
          ],
          "mark": {"type": "circle", "size": 30, "color": "#999999", "opacity": 1},
          "encoding": {
            "xOffset": {"field": "pos", "type": "quantitative", "scale": {"domain": [-20, 20], "range": [-120, 120]}},
            "y": {
              "field": "estimate", "type": "quantitative", "title": "Estimate",
              "scale": {"domain": [0, 1], "nice": false, "zero": false},
              "axis": {"values": [0, 0.2, 0.4, 0.6, 0.8, 1], "format": ".1f", "offset": 126, "labelPadding": 15, "titlePadding": 23}
            }
          }
        },
        {
          "data": {"name": "controlled"},
          "transform": [
            {"filter": "datum.instruction == 'Exclusion'"},
            {"calculate": "floor(datum.estimate / 0.013)", "as": "row"},
            {"window": [{"op": "row_number", "as": "k"}], "groupby": ["transition", "instruction", "row"], "sort": [{"field": "estimate", "order": "ascending"}]},
            {"joinaggregate": [{"op": "count", "as": "n"}], "groupby": ["transition", "instruction", "row"]},
            {"calculate": "5.5 + (datum.k % 2 == 0 ? 1 : -1) * floor(datum.k / 2) - (datum.n % 2 == 0 ? 0.5 : 0)", "as": "pos"}
          ],
          "mark": {"type": "square", "size": 25, "filled": false, "stroke": "#999999", "strokeWidth": 1.2, "opacity": 1},
          "encoding": {
            "xOffset": {"field": "pos", "type": "quantitative"},
            "y": {"field": "estimate", "type": "quantitative", "title": "Estimate"}
          }
        },
        {
          "data": {"name": "controlledMeans"},
          "transform": [{"calculate": "datum.instruction == 'Inclusion' ? -5.5 : 5.5", "as": "pos"}],
          "mark": {"type": "rule", "color": "black", "strokeWidth": 1.5},
          "encoding": {
            "xOffset": {"field": "pos", "type": "quantitative"},
            "y": {"field": "lower", "type": "quantitative", "title": "Estimate"},
            "y2": {"field": "upper"}
          }
        },
        {
          "data": {"name": "controlledMeans"},
          "transform": [
            {"calculate": "datum.instruction == 'Inclusion' ? -5.5 : 5.5", "as": "pos"},
            {"fold": ["lower", "upper"], "as": ["limit", "bound"]}
          ],
          "mark": {"type": "tick", "color": "black", "size": 17, "thickness": 1.5, "orient": "horizontal"},
          "encoding": {
            "xOffset": {"field": "pos", "type": "quantitative"},
            "y": {"field": "bound", "type": "quantitative", "title": "Estimate"}
          }
        },
        {
          "data": {"name": "controlledMeans"},
          "transform": [{"calculate": "datum.instruction == 'Inclusion' ? -5.5 : 5.5", "as": "pos"}],
          "mark": {"type": "point", "filled": true, "strokeWidth": 1.5, "size": 105, "opacity": 1},
          "encoding": {
            "xOffset": {"field": "pos", "type": "quantitative"},
            "y": {"field": "mean", "type": "quantitative", "title": "Estimate"},
            "shape": {
              "field": "instruction", "type": "nominal",
              "scale": {"domain": ["Inclusion", "Exclusion"], "range": ["circle", "square"]},
              "legend": {"title": "PD instruction", "orient": "none", "legendX": 204, "legendY": -8}
            },
            "fill": {
              "field": "instruction", "type": "nominal",
              "scale": {"domain": ["Inclusion", "Exclusion"], "range": ["black", "white"]},
              "legend": {"title": "PD instruction", "orient": "none", "legendX": 204, "legendY": -8}
            },
            "stroke": {
              "field": "instruction", "type": "nominal",
              "scale": {"domain": ["Inclusion", "Exclusion"], "range": ["black", "black"]},
              "legend": {"title": "PD instruction", "orient": "none", "legendX": 204, "legendY": -8}
            }
          }
        },
        {
          "data": {"values": [{"heading": "Controlled processes"}]},
          "mark": {"type": "text", "align": "right", "baseline": "alphabetic", "dx": -13, "dy": -36.5, "fontSize": 23, "font": "Liberation Sans", "color": "black"},
          "encoding": {
            "x": {"datum": "non-practiced", "type": "nominal"},
            "y": {"datum": 1, "type": "quantitative"},
            "text": {"field": "heading"}
          }
        },
        {
          "data": {"values": [{"heading": "C"}]},
          "mark": {"type": "text", "align": "left", "baseline": "alphabetic", "dx": -6.5, "dy": -36.5, "fontSize": 23, "fontStyle": "italic", "font": "Liberation Sans", "color": "black"},
          "encoding": {
            "x": {"datum": "non-practiced", "type": "nominal"},
            "y": {"datum": 1, "type": "quantitative"},
            "text": {"field": "heading"}
          }
        }
      ]
    }
  ]
}
